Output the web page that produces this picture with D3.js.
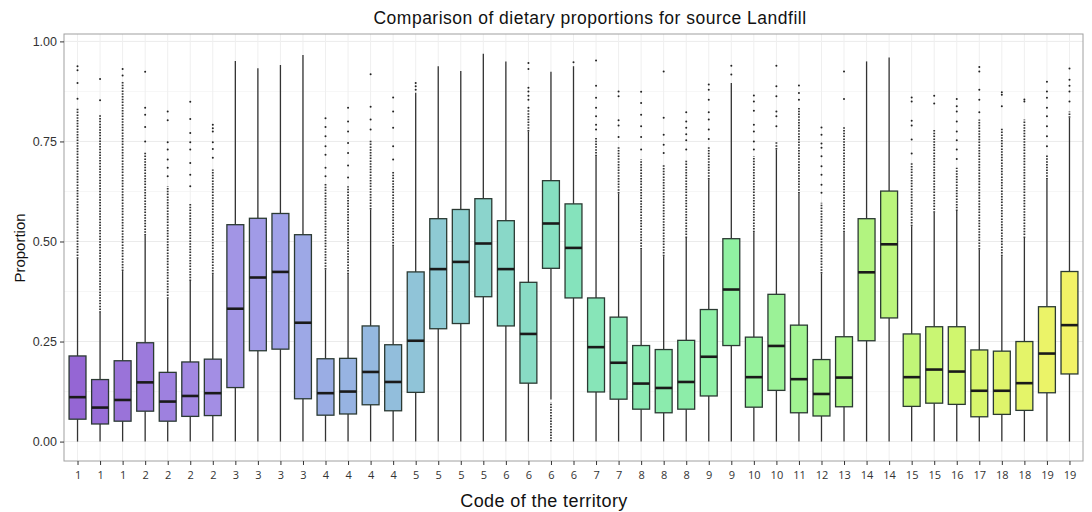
<!DOCTYPE html>
<html><head><meta charset="utf-8">
<script src="https://cdn.jsdelivr.net/npm/d3@7"></script>
<style>body{margin:0;background:#fff}</style>
</head><body>
<svg id="chart" width="1092" height="512"></svg>
<script>
const codes = ["1","1","1","2","2","2","2","3","3","3","3","4","4","4","4","5","5","5","5","6","6","6","6","7","7","8","8","8","9","9","10","10","11","12","13","14","14","15","15","16","17","18","18","19","19"];
const whiskerLow = [0,0,0,0,0,0,0,0,0,0,0,0,0,0,0,0,0,0,0,0,0,0.105,0,0,0,0,0,0,0,0,0,0,0,0,0,0,0,0,0,0,0,0,0,0,0];
const q1 = [0.056,0.044,0.051,0.076,0.051,0.063,0.065,0.135,0.227,0.231,0.107,0.066,0.069,0.092,0.077,0.123,0.282,0.295,0.362,0.289,0.146,0.433,0.359,0.124,0.106,0.081,0.072,0.081,0.114,0.240,0.086,0.128,0.072,0.064,0.087,0.252,0.309,0.088,0.096,0.093,0.062,0.068,0.078,0.122,0.169];
const medians = [0.111,0.085,0.104,0.148,0.100,0.114,0.121,0.332,0.410,0.424,0.297,0.121,0.125,0.174,0.149,0.252,0.431,0.449,0.495,0.431,0.269,0.545,0.484,0.236,0.197,0.145,0.134,0.149,0.212,0.380,0.161,0.239,0.156,0.119,0.160,0.423,0.493,0.161,0.180,0.175,0.127,0.127,0.146,0.220,0.291];
const q3 = [0.214,0.155,0.202,0.247,0.173,0.199,0.206,0.542,0.558,0.570,0.517,0.207,0.208,0.289,0.242,0.424,0.557,0.580,0.607,0.552,0.398,0.652,0.594,0.359,0.311,0.240,0.230,0.253,0.330,0.507,0.261,0.368,0.291,0.205,0.262,0.557,0.626,0.269,0.287,0.287,0.229,0.226,0.250,0.337,0.425];
const whiskerHigh = [0.457,0.322,0.426,0.515,0.357,0.401,0.418,0.951,0.933,0.941,0.966,0.430,0.418,0.580,0.488,0.872,0.938,0.926,0.969,0.950,0.775,0.924,0.938,0.713,0.620,0.480,0.463,0.509,0.655,0.896,0.523,0.730,0.620,0.420,0.523,0.950,0.960,0.538,0.572,0.576,0.480,0.463,0.509,0.655,0.809];
// dense runs of outliers: [from, to] per box
const outlierRuns = [
 [[0.457,0.834]],[[0.322,0.817]],[[0.426,0.900]],[[0.515,0.725]],[[0.357,0.638]],[[0.401,0.597]],[[0.418,0.680]],
 [],[],[],[],
 [[0.430,0.647]],[[0.418,0.638]],[[0.580,0.755]],[[0.488,0.676]],[],
 [],[],[],[],[[0.775,0.830]],[[0.0,0.098]],[],
 [[0.713,0.760]],[[0.620,0.738]],[[0.480,0.705]],[[0.463,0.692]],[[0.509,0.705]],[[0.655,0.738]],[],
 [[0.523,0.713]],[[0.730,0.750]],[[0.620,0.834]],[[0.420,0.597]],[[0.523,0.788]],[],[],
 [[0.538,0.696]],[[0.572,0.780]],[[0.576,0.684]],[[0.480,0.805]],[[0.463,0.784]],[[0.509,0.805]],[[0.655,0.717]],[[0.809,0.825]]
];
const outlierPoints = [
 [0.857,0.896,0.928,0.938],[0.853,0.906],[0.915,0.931],[0.750,0.786,0.817,0.834,0.924],[0.663,0.684,0.705,0.730,0.748,0.803,0.825],
 [0.638,0.667,0.696,0.730,0.748,0.771,0.806,0.849],[0.709,0.731,0.748,0.775,0.783,0.792],
 [],[],[],[],
 [0.663,0.684,0.717,0.738,0.763,0.786,0.808],[0.660,0.690,0.721,0.746,0.775,0.800,0.834],[0.780,0.805,0.837,0.918],[0.705,0.738,0.784,0.825,0.860],[0.879,0.888,0.896],
 [],[],[],[],[0.834,0.854,0.864,0.875,0.884,0.931,0.946],[],[0.948],
 [0.780,0.792,0.813,0.834,0.859,0.889,0.952],[0.761,0.790,0.803,0.863,0.875],[0.730,0.761,0.788,0.817,0.846,0.874],[0.721,0.742,0.767,0.809,0.925],
 [0.730,0.753,0.768,0.784,0.800,0.823],[0.756,0.780,0.805,0.823,0.854,0.879,0.892],[0.917,0.939],
 [0.730,0.750,0.775,0.792,0.827,0.850,0.865],[0.788,0.813,0.825,0.863,0.888,0.939],[0.854,0.871,0.890],
 [0.622,0.642,0.667,0.688,0.713,0.734,0.745,0.767,0.785],[0.856,0.925],[],[],
 [0.720,0.755,0.790,0.802,0.850,0.860],[0.845,0.864],[0.706,0.730,0.753,0.775,0.800,0.825,0.838,0.856],
 [0.823,0.854,0.879,0.925,0.936],[0.838,0.867,0.873],[0.850,0.855],[0.738,0.763,0.788,0.813,0.834,0.859,0.875,0.899],[0.850,0.875,0.889,0.904,0.932]
];
const yTicks = [0, 0.25, 0.5, 0.75, 1.0];
const yMinor = [0.125, 0.375, 0.625, 0.875];

const svg = d3.select("#chart");
const L = 64, R = 1083, T = 34, B = 461;
const idx = d3.range(codes.length);
const x = d3.scalePoint().domain(idx).range([L, R]).padding(0.6);
const y = d3.scaleLinear().domain([-0.0485, 1.0185]).range([B, T]);
const bw = x.step() * 0.75;

const color = d3.scaleLinear()
  .domain([0, 6, 9, 13, 17, 22, 29, 35, 39, 44])
  .range(["#9566d4","#a38ee4","#a0a2e8","#94b8e0","#8cd0d0","#85e3bc","#90f1a2","#b2f480","#d0f66e","#f2f266"])
  .interpolate(d3.interpolateRgb);

// grid
const g = svg.append("g");
g.selectAll(".minor").data(yMinor).join("line")
  .attr("x1", L).attr("x2", R).attr("y1", d => y(d)).attr("y2", d => y(d))
  .attr("stroke", "#f4f4f4").attr("stroke-width", 0.8);
g.selectAll(".major").data(yTicks).join("line")
  .attr("x1", L).attr("x2", R).attr("y1", d => y(d)).attr("y2", d => y(d))
  .attr("stroke", "#ebebeb").attr("stroke-width", 1);
g.selectAll(".vgrid").data(idx).join("line")
  .attr("x1", d => x(d)).attr("x2", d => x(d)).attr("y1", T).attr("y2", B)
  .attr("stroke", "#efefef").attr("stroke-width", 1);

// boxes
const boxes = svg.append("g").selectAll("g").data(idx).join("g");
boxes.append("line")
  .attr("x1", d => x(d)).attr("x2", d => x(d))
  .attr("y1", d => y(whiskerLow[d])).attr("y2", d => y(q1[d]))
  .attr("stroke", "#333").attr("stroke-width", 1.3);
boxes.append("line")
  .attr("x1", d => x(d)).attr("x2", d => x(d))
  .attr("y1", d => y(q3[d])).attr("y2", d => y(whiskerHigh[d]))
  .attr("stroke", "#333").attr("stroke-width", 1.3);
boxes.append("rect")
  .attr("x", d => x(d) - bw / 2).attr("width", bw)
  .attr("y", d => y(q3[d])).attr("height", d => y(q1[d]) - y(q3[d]))
  .attr("fill", d => color(d)).attr("stroke", "#2b3a33").attr("stroke-width", 1.3);
boxes.append("line")
  .attr("x1", d => x(d) - bw / 2).attr("x2", d => x(d) + bw / 2)
  .attr("y1", d => y(medians[d])).attr("y2", d => y(medians[d]))
  .attr("stroke", "#1a1a1a").attr("stroke-width", 2.6);
// outliers
boxes.each(function(d) {
  const s = d3.select(this);
  s.selectAll(".run").data(outlierRuns[d]).join("line")
    .attr("x1", x(d)).attr("x2", x(d))
    .attr("y1", r => y(r[0])).attr("y2", r => y(r[1]))
    .attr("stroke", "#333").attr("stroke-width", 1.8).attr("stroke-dasharray", "1.5,1.3");
  s.selectAll(".pt").data(outlierPoints[d]).join("circle")
    .attr("cx", x(d)).attr("cy", v => y(v)).attr("r", 1.0).attr("fill", "#222");
});

// panel border
svg.append("rect").attr("x", L).attr("y", T).attr("width", R - L).attr("height", B - T)
  .attr("fill", "none").attr("stroke", "#a0a0a0").attr("stroke-width", 1);

// axes
const yAxis = svg.append("g").attr("transform", `translate(${L},0)`)
  .call(d3.axisLeft(y).tickValues(yTicks).tickFormat(d3.format(".2f")).tickSize(4).tickPadding(3));
yAxis.select(".domain").remove();
yAxis.selectAll("line").attr("stroke", "#333");
yAxis.selectAll("text").attr("font-family", "Liberation Sans, Arial, sans-serif").attr("font-size", 12.5).attr("fill", "#333");

const xAxis = svg.append("g").attr("transform", `translate(0,${B})`)
  .call(d3.axisBottom(x).tickFormat(d => codes[d]).tickSize(4).tickPadding(6));
xAxis.select(".domain").remove();
xAxis.selectAll("line").attr("stroke", "#333");
xAxis.selectAll("text").attr("font-family", "Open Sans, sans-serif").attr("font-size", 11).attr("fill", "#333");

// titles
svg.append("text").attr("x", 590).attr("y", 24).attr("text-anchor", "middle")
  .attr("font-family", "Liberation Sans, Arial, sans-serif").attr("font-size", 17.5).attr("letter-spacing", 0.5).attr("fill", "#111")
  .text("Comparison of dietary proportions for source Landfill");
svg.append("text").attr("x", 544).attr("y", 507).attr("text-anchor", "middle")
  .attr("font-family", "Liberation Sans, Arial, sans-serif").attr("font-size", 18).attr("letter-spacing", 0.4).attr("fill", "#111")
  .text("Code of the territory");
svg.append("text").attr("transform", "translate(25,248) rotate(-90)").attr("text-anchor", "middle")
  .attr("font-family", "Liberation Sans, Arial, sans-serif").attr("font-size", 15).attr("fill", "#111")
  .text("Proportion");
</script>
</body></html>
